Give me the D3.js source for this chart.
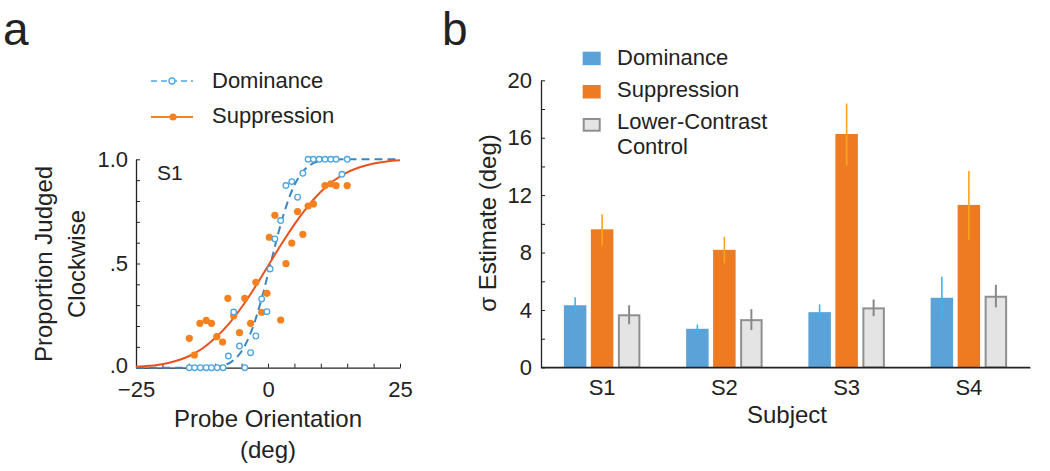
<!DOCTYPE html>
<html>
<head>
<meta charset="utf-8">
<script src="https://cdn.jsdelivr.net/npm/d3@7"></script>
<style>
  html, body { margin: 0; padding: 0; background: #fff; }
  svg { display: block; font-family: "Liberation Sans", Arial, Helvetica, sans-serif; }
  text { fill: #222; }
</style>
</head>
<body>
<svg id="chart" width="1050" height="471"></svg>
<script>
// ---------- Panel a data ----------
const domX = [-14.9,-13.9,-12.8,-11.7,-10.7,-9.6,-8.5,-7.5,-6.5,-5.4,-4.4,-3.3,-2.3,-1.2,-0.2,0.4,1.3,2.4,3.4,4.5,5.6,6.6,7.6,8.6,9.7,10.8,11.9,12.9,14.0,15.0];
const domY = [0,0,0,0,0,0,0,0.056,0.267,0.104,0,0.072,0.152,0.33,0.269,0.474,0.618,0.706,0.874,0.893,0.818,0.933,1,1,1,1,1,1,0.928,1];
const supX = [-14.9,-13.95,-12.9,-11.7,-10.7,-9.7,-8.6,-7.6,-6.5,-5.4,-4.4,-3.3,-2.3,-1.2,-0.2,0.25,1.3,2.4,3.4,4.5,5.6,6.6,7.6,8.6,10.8,11.9,12.9,15.0];
const supY = [0.141,0.061,0.213,0.227,0.213,0.149,0.123,0.333,0.248,0.168,0.333,0.213,0.41,0.266,0.357,0.626,0.731,0.229,0.499,0.598,0.749,0.64,0.776,0.786,0.874,0.882,0.874,0.874];
// fitted curves
const supCurveX = [-25,-22.5,-20,-17.5,-15,-12.5,-10,-7.5,-5,-2.5,0,2.5,5,7.5,10,12.5,15,17.5,20,22.5,25];
const supCurveY = [0.004,0.009,0.017,0.032,0.055,0.091,0.142,0.208,0.290,0.385,0.488,0.591,0.688,0.773,0.844,0.898,0.937,0.963,0.980,0.990,0.995];
const domCurveX = [-25,-15,-12.5,-10,-8,-7,-6,-5,-4,-3,-2,-1,0,1,2,3,4,5,6,7,8,10,12.5,15,25];
const domCurveY = [0,0,0.0004,0.004,0.015,0.027,0.048,0.079,0.125,0.185,0.261,0.350,0.449,0.551,0.650,0.739,0.815,0.876,0.921,0.952,0.973,0.993,0.999,1,1];
const aXTicks = [-25,-20,-15,-10,-5,0,5,10,15,20,25];
const aXLabels = {"-25":"\u221225","0":"0","25":"25"};
const aYTicks = [0,0.1,0.2,0.3,0.4,0.5,0.6,0.7,0.8,0.9,1.0];
const aYLabels = {"0":".0","0.5":".5","1":"1.0"};

// ---------- Panel b data ----------
const subjects = ["S1","S2","S3","S4"];
const dominance = [4.33, 2.69, 3.85, 4.85];
const domLow    = [3.79, 2.30, 3.29, 3.34];
const domHigh   = [4.88, 2.99, 4.39, 6.31];
const suppression = [9.62, 8.19, 16.26, 11.32];
const supLow      = [8.48, 7.24, 14.08, 8.86];
const supHigh     = [10.67, 9.10, 18.38, 13.69];
const control  = [3.70, 3.36, 4.18, 4.99];
const ctrlLow  = [3.00, 2.60, 3.57, 4.18];
const ctrlHigh = [4.33, 4.06, 4.73, 5.75];
const bYTicks = [0,2,4,6,8,10,12,14,16,18,20];
const seriesNames = ["Dominance","Suppression","Lower-Contrast Control"];

const C = {
  domBar: "#5aa2d8", supBar: "#ee7b22", ctrlFill: "#e4e4e4", ctrlStroke: "#8f8f8f",
  domErr: "#3db4ee", supErr: "#f8a51c", ctrlErr: "#888888",
  domDot: "#4ea6e0", supDot: "#f5821f", domLine: "#3a85c2", supLine: "#e8521f",
  axis: "#222"
};

const svg = d3.select("#chart");

// ================= Panel a =================
const ax = d3.scaleLinear().domain([-25,25]).range([136,400]);
const ay = d3.scaleLinear().domain([0,1]).range([367.7,159.3]);
const ga = svg.append("g");

ga.append("text").attr("x",3).attr("y",45).style("font-size","46px").text("a");

// axes
const aBottom = d3.axisBottom(ax).tickValues(aXTicks).tickSizeInner(-4).tickSizeOuter(0)
  .tickPadding(13.5).tickFormat(d => aXLabels[String(d)] || "");
const gax = ga.append("g").attr("transform","translate(0,367.7)").call(aBottom);
const aLeft = d3.axisLeft(ay).tickValues(aYTicks).tickSizeInner(-4).tickSizeOuter(0)
  .tickPadding(8).tickFormat(d => aYLabels[String(+d.toFixed(1))] || "");
const gay = ga.append("g").attr("transform","translate(136,0)").call(aLeft);
[gax, gay].forEach(g => {
  g.select(".domain").attr("stroke",C.axis).attr("stroke-width",1.3);
  g.selectAll(".tick line").attr("stroke",C.axis).attr("stroke-width",1);
  g.selectAll(".tick text").style("font-size","22px").style("font-family","Liberation Sans, Arial, sans-serif").attr("fill","#222");
});
gay.selectAll(".tick text").filter(d => d === 0).attr("dy","0.2em");

// curves
const line = d3.line().x(d => ax(d[0])).y(d => ay(d[1])).curve(d3.curveMonotoneX);
ga.append("path").datum(d3.zip(domCurveX, domCurveY)).attr("d", line)
  .attr("fill","none").attr("stroke",C.domLine).attr("stroke-width",2).attr("stroke-dasharray","8,5");
ga.append("path").datum(d3.zip(supCurveX, supCurveY)).attr("d", line)
  .attr("fill","none").attr("stroke",C.supLine).attr("stroke-width",2);

// points
ga.append("g").selectAll("circle").data(d3.zip(supX, supY)).join("circle")
  .attr("cx", d => ax(d[0])).attr("cy", d => ay(d[1])).attr("r",3.6).attr("fill",C.supDot);
ga.append("g").selectAll("circle").data(d3.zip(domX, domY)).join("circle")
  .attr("cx", d => ax(d[0])).attr("cy", d => ay(d[1])).attr("r",2.8)
  .attr("fill","#fff").attr("stroke",C.domDot).attr("stroke-width",1.3);

ga.append("text").attr("x",157).attr("y",180).style("font-size","21px").text("S1");

// axis titles
ga.append("text").attr("text-anchor","middle").attr("transform","translate(52,264) rotate(-90)")
  .style("font-size","24px").text("Proportion Judged");
ga.append("text").attr("text-anchor","middle").attr("transform","translate(85,264) rotate(-90)")
  .style("font-size","24px").text("Clockwise");
ga.append("text").attr("text-anchor","middle").attr("x",268).attr("y",427).style("font-size","24px").text("Probe Orientation");
ga.append("text").attr("text-anchor","middle").attr("x",268).attr("y",458).style("font-size","24px").text("(deg)");

// legend a
const la = ga.append("g");
la.append("line").attr("x1",151).attr("x2",193).attr("y1",81).attr("y2",81)
  .attr("stroke",C.domDot).attr("stroke-width",1.5).attr("stroke-dasharray","6,4");
la.append("circle").attr("cx",172).attr("cy",81).attr("r",3).attr("fill","#fff").attr("stroke",C.domDot).attr("stroke-width",1.3);
la.append("text").attr("x",212).attr("y",88).style("font-size","22px").text("Dominance");
la.append("line").attr("x1",151).attr("x2",193).attr("y1",117).attr("y2",117)
  .attr("stroke",C.supDot).attr("stroke-width",2);
la.append("circle").attr("cx",173).attr("cy",117).attr("r",3.6).attr("fill",C.supDot);
la.append("text").attr("x",212).attr("y",123).style("font-size","22px").text("Suppression");

// ================= Panel b =================
const bx = d3.scaleBand().domain(subjects).range([541,1030]).padding(0);
const by = d3.scaleLinear().domain([0,20]).range([367.4,80.3]);
const gb = svg.append("g");
gb.append("text").attr("x",442).attr("y",45).style("font-size","46px").text("b");

const bLeft = d3.axisLeft(by).tickValues(bYTicks).tickSizeInner(-4).tickSizeOuter(0).tickPadding(9)
  .tickFormat(d => d % 4 === 0 ? String(d) : "");
const gby = gb.append("g").attr("transform","translate(541,0)").call(bLeft);
const bBottom = d3.axisBottom(bx).tickSize(0).tickPadding(12);
const gbx = gb.append("g").attr("transform","translate(0,367.4)").call(bBottom);
[gby, gbx].forEach(g => {
  g.select(".domain").attr("stroke",C.axis).attr("stroke-width",1.3);
  g.selectAll(".tick line").attr("stroke",C.axis).attr("stroke-width",1);
  g.selectAll(".tick text").style("font-size","22px").style("font-family","Liberation Sans, Arial, sans-serif").attr("fill","#222");
});

const barW = 22.5, step = 27;
const series = [
  {vals: dominance, lo: domLow, hi: domHigh, off: -1, fill: C.domBar, stroke: "none", err: C.domErr, ew: 1.6},
  {vals: suppression, lo: supLow, hi: supHigh, off: 0, fill: C.supBar, stroke: "none", err: C.supErr, ew: 1.6},
  {vals: control, lo: ctrlLow, hi: ctrlHigh, off: 1, fill: C.ctrlFill, stroke: C.ctrlStroke, err: C.ctrlErr, ew: 2}
];
series.forEach(s => {
  const data = subjects.map((sub,i) => ({sub, v: s.vals[i], lo: s.lo[i], hi: s.hi[i]}));
  const cx = d => bx(d.sub) + bx.bandwidth()/2 + s.off*step;
  const sw = s.stroke === "none" ? 0 : 2;
  gb.append("g").selectAll("rect").data(data).join("rect")
    .attr("x", d => cx(d) - barW/2 + sw/2).attr("width", barW - sw)
    .attr("y", d => by(d.v) + sw/2).attr("height", d => by(0) - by(d.v) - sw/2)
    .attr("fill", s.fill).attr("stroke", s.stroke).attr("stroke-width", sw);
  gb.append("g").selectAll("line").data(data).join("line")
    .attr("x1", cx).attr("x2", cx).attr("y1", d => by(d.lo)).attr("y2", d => by(d.hi))
    .attr("stroke", s.err).attr("stroke-width", s.ew);
});
// redraw x axis line above bars
gb.append("line").attr("x1",541).attr("x2",1030).attr("y1",by(0)).attr("y2",by(0)).attr("stroke",C.axis).attr("stroke-width",1.3);

gb.append("text").attr("text-anchor","middle").attr("x",787).attr("y",423).style("font-size","24px").text("Subject");
gb.append("text").attr("text-anchor","middle").attr("transform","translate(496,223) rotate(-90)")
  .style("font-size","24px").text("\u03c3 Estimate (deg)");

// legend b
const lb = gb.append("g");
const legY = [51.7, 85, 118];
const legFill = [C.domBar, C.supBar, C.ctrlFill];
legY.forEach((y,i) => {
  lb.append("rect").attr("x", i===2 ? 583.7 : 582.7).attr("y", i===2 ? y+1 : y)
    .attr("width", i===2 ? 16 : 18).attr("height", i===2 ? 11.7 : 13.5)
    .attr("fill", legFill[i]).attr("stroke", i===2 ? C.ctrlStroke : "none").attr("stroke-width", i===2 ? 2 : 0);
});
lb.append("text").attr("x",617).attr("y",65).style("font-size","22px").text(seriesNames[0]);
lb.append("text").attr("x",617).attr("y",97).style("font-size","22px").text(seriesNames[1]);
lb.append("text").attr("x",617).attr("y",129).style("font-size","22px").text("Lower-Contrast");
lb.append("text").attr("x",617).attr("y",154).style("font-size","22px").text("Control");
</script>
</body>
</html>
